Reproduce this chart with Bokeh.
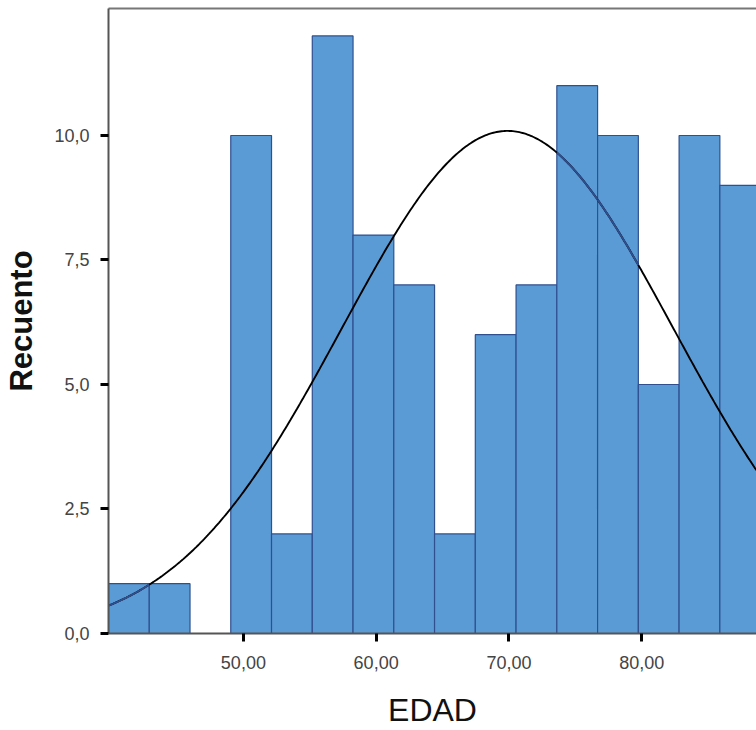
import numpy as np
from bokeh.plotting import figure
from bokeh.models import Range1d, FixedTicker, CustomJSTickFormatter, LinearAxis
from bokeh.embed import file_html
from bokeh.resources import INLINE

# ---- data ----
bin_width = 3.07
bin_lefts = [39.84, 42.91, 45.98, 49.05, 52.12, 55.19, 58.26, 61.33,
             64.40, 67.47, 70.54, 73.61, 76.68, 79.75, 82.82, 85.89]
counts = [1, 1, 0, 10, 2, 12, 8, 7, 2, 6, 7, 11, 10, 5, 10, 9]

curve_mean = 69.9
curve_sd = 12.5
curve_n = 103

y_ticks = [0, 2.5, 5, 7.5, 10]
x_ticks = [50, 60, 70, 80]
x_start, x_end = 39.84, 88.65
y_start, y_end = 0, 12.55

# bins where the curve is rendered in the bar edge colour
blue_curve_bins = [0, 11, 12]

FONT = "Liberation Sans"
BAR_FILL = "#5B9BD5"
BAR_EDGE = "#2F4F8F"

p = figure(width=756, height=730, output_backend="svg", toolbar_location=None,
           x_range=Range1d(x_start, x_end), y_range=Range1d(y_start, y_end),
           min_border_left=108, min_border_right=0, min_border_top=8,
           min_border_bottom=97)
p.xgrid.visible = False
p.ygrid.visible = False
p.outline_line_color = None
p.background_fill_color = "white"
p.border_fill_color = "white"

lefts = np.array(bin_lefts)
rights = lefts + bin_width
p.quad(left=lefts, right=rights, top=counts, bottom=0,
       fill_color=BAR_FILL, line_color=BAR_EDGE, line_width=1.2)

def normal_curve(x):
    return curve_n * bin_width / (curve_sd * np.sqrt(2 * np.pi)) * \
        np.exp(-0.5 * ((x - curve_mean) / curve_sd) ** 2)

xs = np.linspace(x_start, x_end, 400)
p.line(xs, normal_curve(xs), line_color="black", line_width=1.9)
for b in blue_curve_bins:
    seg = np.linspace(lefts[b], rights[b], 40)
    p.line(seg, normal_curve(seg), line_color=BAR_EDGE, line_width=1.9)

# axes
for ax in (p.xaxis[0], p.yaxis[0]):
    ax.axis_line_color = "#555555"
    ax.axis_line_width = 2
    ax.major_tick_line_color = "black"
    ax.major_tick_line_width = 3
    ax.major_tick_out = 8
    ax.major_tick_in = 0
    ax.minor_tick_line_color = None
    ax.major_label_text_font = FONT
    ax.major_label_text_font_size = "18px"
    ax.major_label_text_color = "#444444"
    ax.axis_label_text_font = FONT
    ax.axis_label_text_color = "#111111"

p.yaxis.ticker = FixedTicker(ticks=y_ticks)
p.xaxis.ticker = FixedTicker(ticks=x_ticks)
p.yaxis.formatter = CustomJSTickFormatter(code="return tick.toFixed(1).replace('.', ',');")
p.xaxis.formatter = CustomJSTickFormatter(code="return tick.toFixed(2).replace('.', ',');")
p.yaxis.major_label_standoff = 11
p.xaxis.major_label_standoff = 14

p.yaxis.axis_label = "Recuento"
p.yaxis.axis_label_text_font_size = "31px"
p.yaxis.axis_label_text_font_style = "bold"
p.yaxis.axis_label_standoff = 12

p.xaxis.axis_label = "EDAD"
p.xaxis.axis_label_text_font_size = "32px"
p.xaxis.axis_label_text_font_style = "normal"
p.xaxis.axis_label_text_line_height = 0.8
p.xaxis.axis_label_standoff = 20

top = LinearAxis(ticker=FixedTicker(ticks=[]), axis_line_color="#777777",
                 axis_line_width=2, major_tick_out=0, major_tick_in=0,
                 minor_tick_line_color=None, major_label_standoff=0,
                 major_label_text_font_size="0px")
p.add_layout(top, "above")

open("out.html", "w").write(file_html(p, INLINE))
